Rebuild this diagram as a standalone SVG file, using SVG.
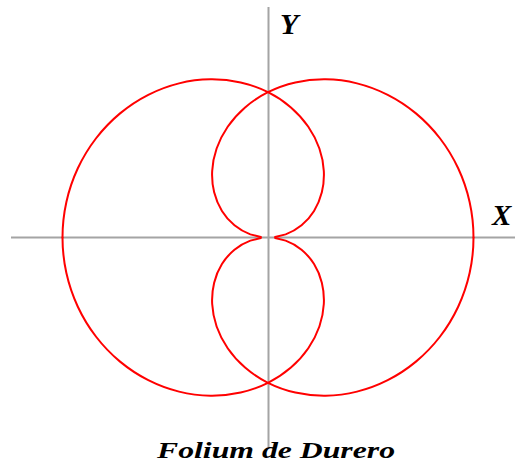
<svg xmlns="http://www.w3.org/2000/svg" xmlns:xlink="http://www.w3.org/1999/xlink" width="520" height="467" viewBox="0 0 520 467">
<style>
.axis{stroke:#a4a4a4;stroke-width:2;fill:none}
.curve{stroke:#ff0000;stroke-width:2;fill:none;stroke-linejoin:round;stroke-linecap:round}
.lbl{font-family:"Liberation Serif","Times New Roman",serif;font-style:italic;font-weight:bold;fill:#000}
</style>
<defs>
<path id="quarter" class="curve" d="M7.15,-0.5 L17.64,-3.11 C23.32,-5.17 28.71,-8.24 33.53,-12.2 C38.35,-16.16 42.61,-21.02 46.06,-26.59 C49.51,-32.16 52.17,-38.44 53.84,-45.18 C55.51,-51.92 56.21,-59.13 55.82,-66.53 C55.43,-73.93 53.97,-81.51 51.38,-88.98 C48.79,-96.45 45.08,-103.81 40.31,-110.76 C35.54,-117.71 29.71,-124.25 22.94,-130.09 C16.17,-135.93 8.45,-141.08 0,-145.31 C-8.45,-149.54 -17.65,-152.84 -27.34,-155.03 C-37.03,-157.22 -47.19,-158.31 -57.57,-158.18 C-67.95,-158.05 -78.52,-156.72 -88.98,-154.13 C-99.44,-151.54 -109.8,-147.7 -119.72,-142.67 C-129.64,-137.64 -139.14,-131.42 -147.93,-124.13 C-156.72,-116.84 -164.79,-108.48 -171.9,-99.25 C-179.01,-90.02 -185.17,-79.93 -190.17,-69.22 C-195.17,-58.51 -199.03,-47.19 -201.61,-35.55 C-204.19,-23.91 -205.5,-11.96 -205.5,0"/>
</defs>
<g id="axes">
<line class="axis" x1="11" y1="237.5" x2="515" y2="237.5"/>
<line class="axis" x1="268.5" y1="7" x2="268.5" y2="447"/>
</g>
<g id="folium" transform="translate(268,237.5)">
<use xlink:href="#quarter"/>
<use xlink:href="#quarter" transform="scale(1,-1)"/>
<use xlink:href="#quarter" transform="scale(-1,1)"/>
<use xlink:href="#quarter" transform="scale(-1,-1)"/>
</g>
<g id="labels">
<text class="lbl" x="280" y="34" font-size="30">Y</text>
<text class="lbl" x="492" y="225" font-size="29">X</text>
<text class="lbl" x="157" y="458" font-size="24" textLength="238" lengthAdjust="spacingAndGlyphs">Folium de Durero</text>
</g>
</svg>
